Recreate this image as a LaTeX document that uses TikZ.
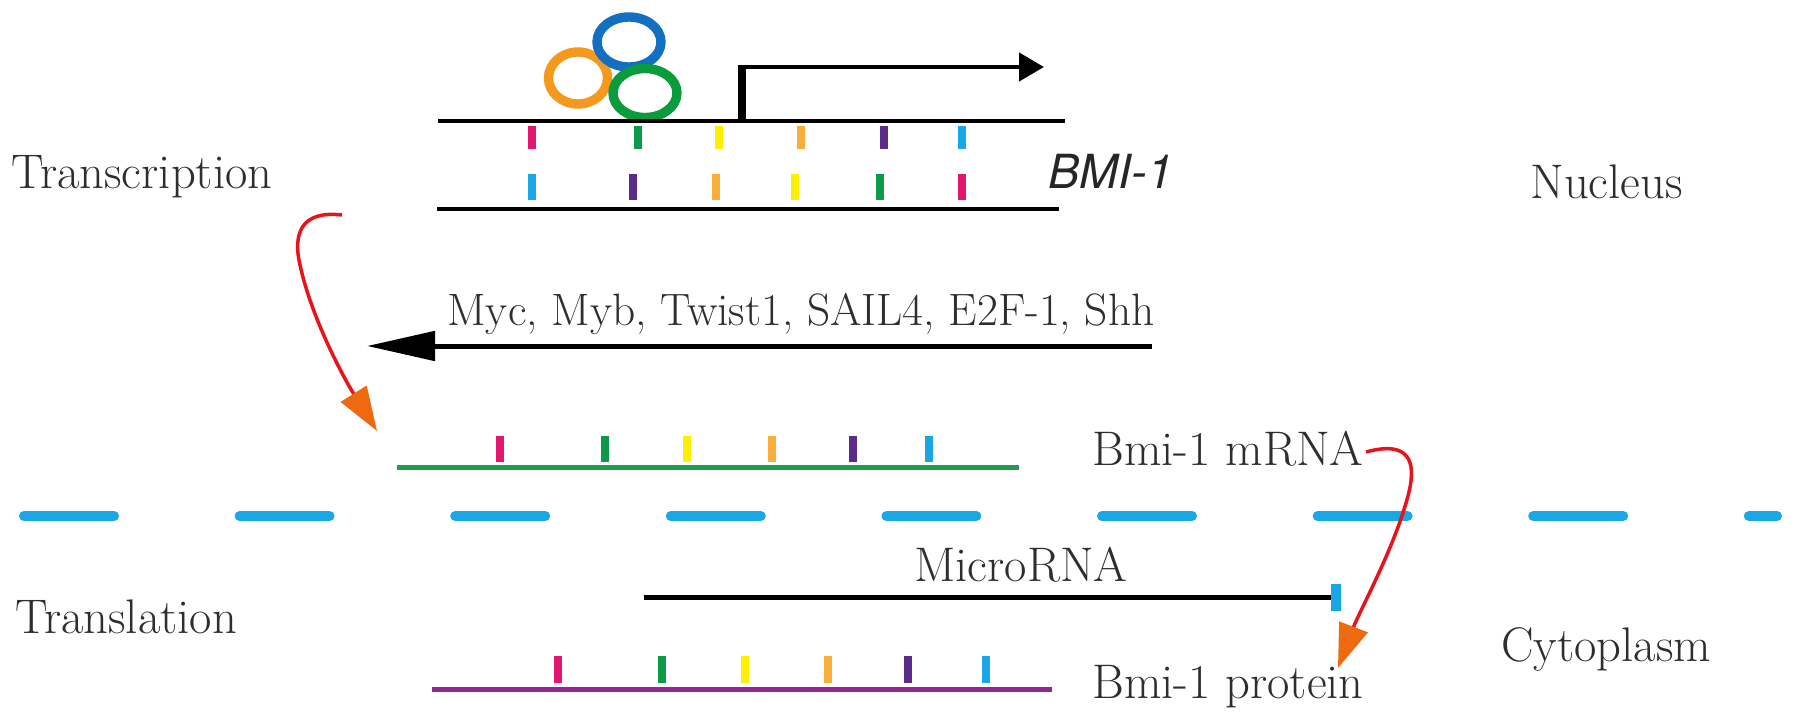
\documentclass[tikz,border=0pt]{standalone}
\usepackage{fontspec}
\newfontfamily\herosfont{TeX Gyre Heros}
\usetikzlibrary{arrows.meta}
\definecolor{tpink}{HTML}{E5166F}
\definecolor{tgreen}{HTML}{0D9A48}
\definecolor{tyellow}{HTML}{FFEF00}
\definecolor{torange}{HTML}{F9AE3B}
\definecolor{tpurple}{HTML}{5A2B8B}
\definecolor{tblue}{HTML}{1AA7E6}
\definecolor{corange}{HTML}{F39A1E}
\definecolor{cblue}{HTML}{1370C0}
\definecolor{cgreen}{HTML}{0A9B3D}
\definecolor{mgreen}{HTML}{1E9B4B}
\definecolor{ppurple}{HTML}{93278F}
\definecolor{cred}{HTML}{E8141B}
\definecolor{headorange}{HTML}{EE6A10}
\begin{document}
\begin{tikzpicture}[x=0.5pt,y=-0.5pt,
  lbl/.style={font=\fontsize{24.3}{27}\selectfont, inner sep=0pt, text=black!82, anchor=base west},
  tickmark/.style={line width=4pt},
  strand/.style={line width=2.25pt, black},
  redcurve/.style={cred, line width=1.75pt, -{Triangle[length=22pt,width=15pt,color=headorange,fill=headorange]}},
  ring/.style={line width=4.7pt}]
\useasboundingbox (0,0) rectangle (1795,723);

% labels
\node[lbl] (transcription) at (11,188) {Transcription};
\node[lbl] (nucleus) at (1530,198) {Nucleus};
\node[lbl, font=\herosfont\itshape\fontsize{23.5}{26}\selectfont, text=black!85] (bmigene) at (1048,188) {BMI-1};
\node[lbl, font=\fontsize{22.7}{26}\selectfont] (myc) at (447,325) {Myc, Myb, Twist1, SAIL4, E2F-1, Shh};
\node[lbl] (mrna) at (1092,465) {Bmi-1 mRNA};
\node[lbl] (microrna) at (914,581) {MicroRNA};
\node[lbl] (translation) at (15,633) {Translation};
\node[lbl] (cytoplasm) at (1501,661) {Cytoplasm};
\node[lbl] (protein) at (1092,698) {Bmi-1 protein};

% transcription factor rings
\draw[ring, corange] (578,78) ellipse [x radius=14.75pt, y radius=13pt];
\draw[ring, cblue] (629,42) ellipse [x radius=16pt, y radius=12.5pt];
\draw[ring, cgreen] (645,93) ellipse [x radius=16pt, y radius=12.25pt];

% DNA strands
\draw[strand] (438,121) -- (1065,121);
\draw[strand] (437,209) -- (1059,209);
\foreach \x/\c in {532/tpink,638/tgreen,719/tyellow,801/torange,884/tpurple,962/tblue}
  \draw[tickmark, \c] (\x,126) -- (\x,149);
\foreach \x/\c in {532/tblue,633/tpurple,716/torange,795/tyellow,880/tgreen,962/tpink}
  \draw[tickmark, \c] (\x,174) -- (\x,200);

% promoter arrow
\coordinate (tss) at (742,121);
\coordinate (tsstop) at (742,65);
\coordinate (tssend) at (1044,67);
\draw[line width=4pt] (tss) -- (tsstop);
\draw[line width=2.25pt, -{Triangle[length=12.5pt,width=14pt]}] (740,67) -- (tssend);

% regulators arrow
\coordinate (mycR) at (1152,346);
\coordinate (mycL) at (367,346);
\draw[line width=2.5pt, -{Triangle[length=34pt,width=14.5pt]}] (mycR) -- (mycL);

% red curve 1
\coordinate (r1s) at (342,215);
\coordinate (r1e) at (377,431);
\draw[redcurve] (r1s) .. controls (300,210) and (293,235) .. (300,265) .. controls (312,320) and (345,380) .. (r1e);

% mRNA
\draw[mgreen, line width=2.5pt] (397,467) -- (1019,467);
\foreach \x/\c in {500/tpink,605/tgreen,687/tyellow,772/torange,853/tpurple,929/tblue}
  \draw[tickmark, \c] (\x,436) -- (\x,462);

% membrane dashed line
\draw[tblue, line width=5pt, line cap=round, dash pattern=on 45pt off 62.8pt] (24,516) -- (1777,516);

% red curve 2
\coordinate (r2s) at (1366,452);
\coordinate (r2e) at (1338,668);
\draw[redcurve] (r2s) .. controls (1410,440) and (1416,462) .. (1409,492) .. controls (1396,545) and (1360,610) .. (r2e);

% microRNA inhibition
\coordinate (miL) at (644,597);
\coordinate (miR) at (1332,597);
\draw[line width=2.5pt] (miL) -- (miR);
\draw[tblue, line width=5pt] (1336,584) -- (1336,611);

% protein
\draw[ppurple, line width=2.5pt] (432,689) -- (1052,689);
\foreach \x/\c in {558/tpink,662/tgreen,745/tyellow,828/torange,908/tpurple,986/tblue}
  \draw[tickmark, \c] (\x,656) -- (\x,683);
\end{tikzpicture}
\end{document}
